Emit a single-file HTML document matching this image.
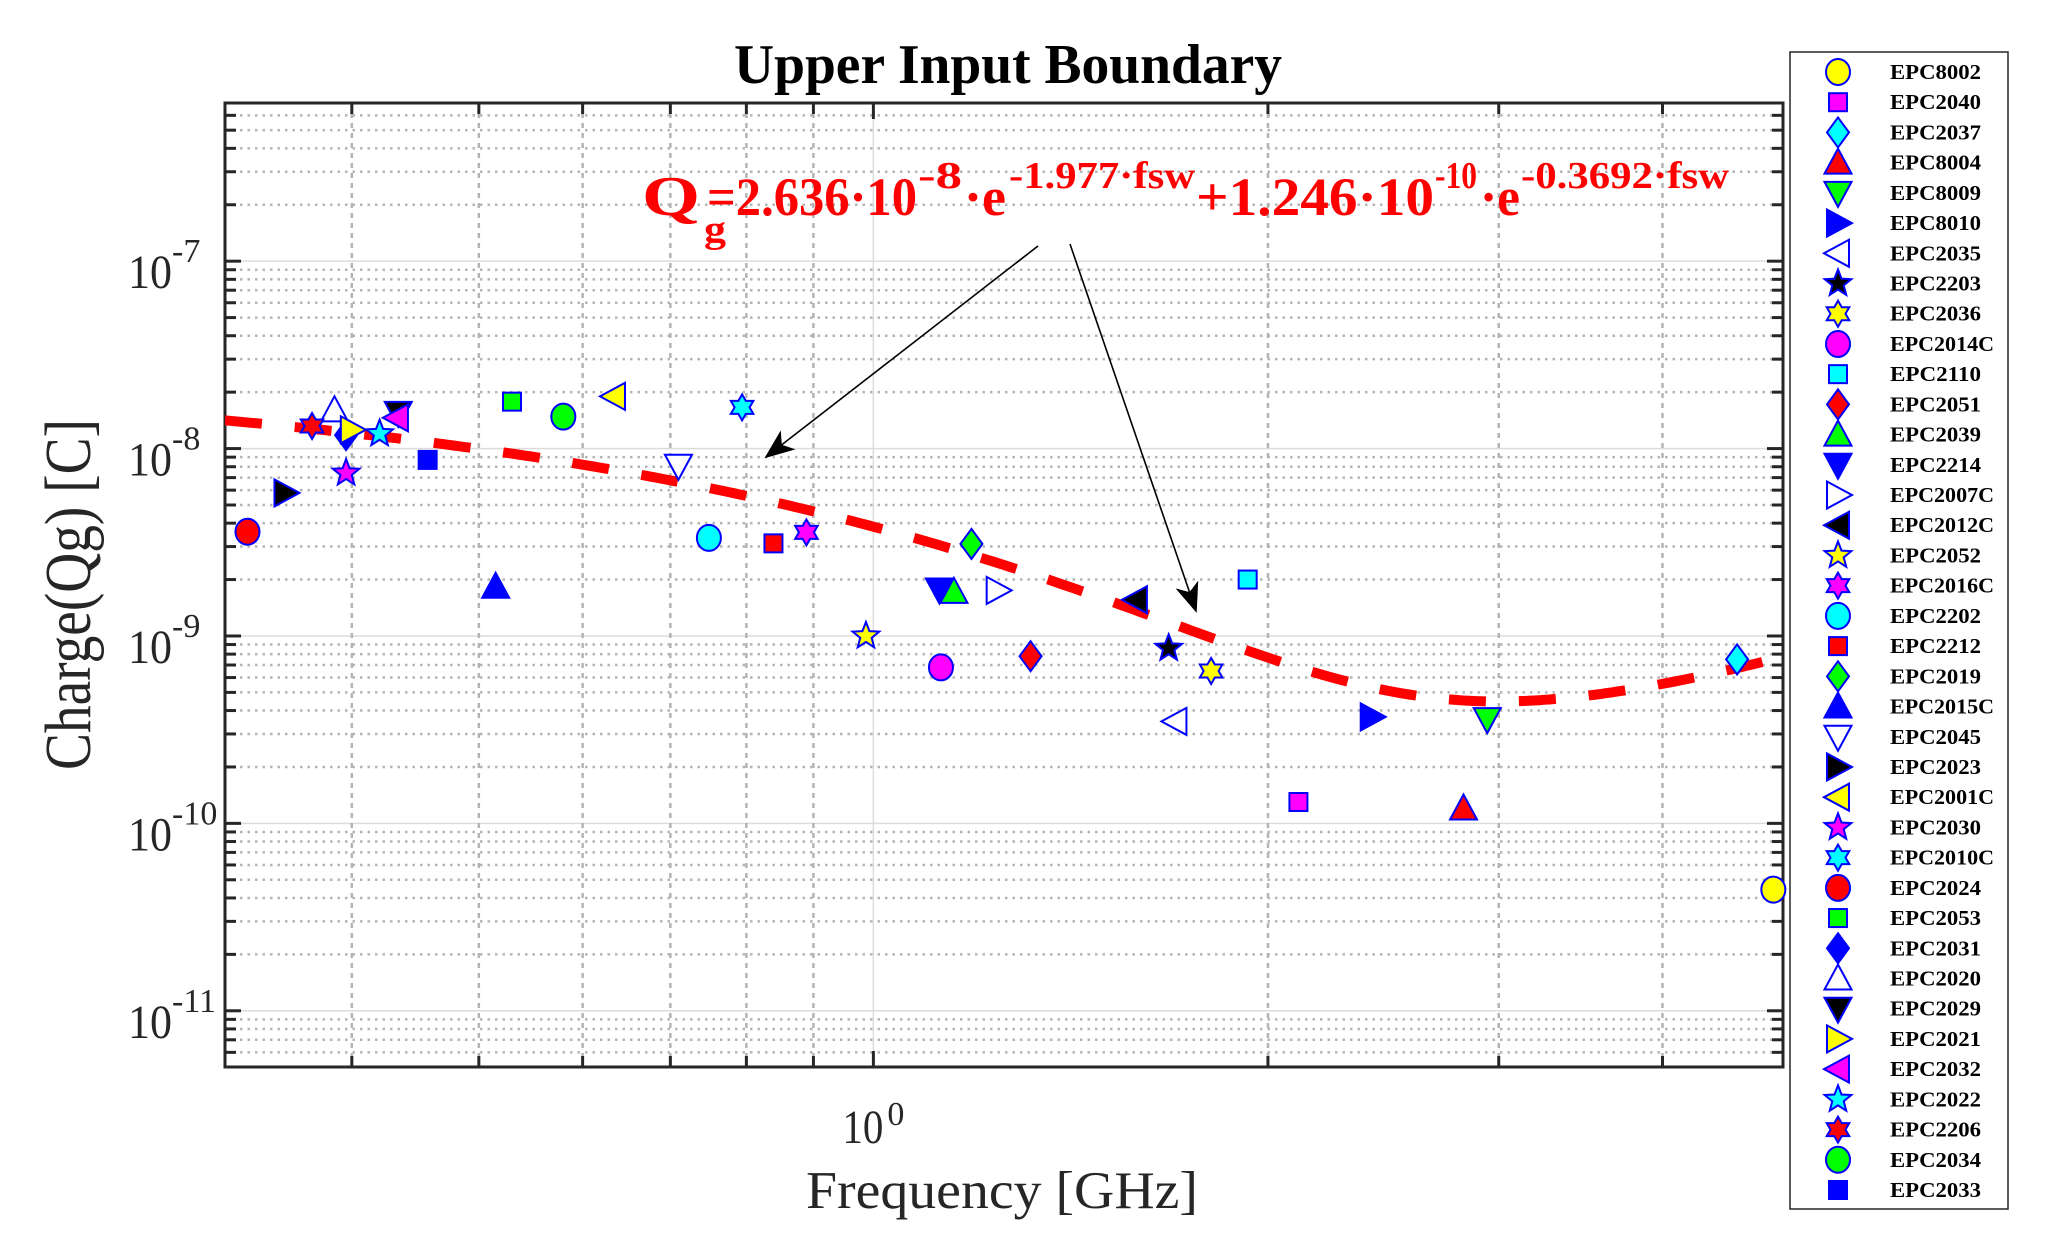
<!DOCTYPE html>
<html><head><meta charset="utf-8"><style>
html,body{margin:0;padding:0;background:#fff;}
svg{display:block;font-family:"Liberation Serif",serif;}
</style></head><body>
<svg id="chart" width="2055" height="1249" viewBox="0 0 2055 1249" xmlns="http://www.w3.org/2000/svg">
<rect x="0" y="0" width="2055" height="1249" fill="#fff"/>
<defs><clipPath id="plotclip"><rect x="225" y="103" width="1558" height="964"/></clipPath>
<marker id="ah" viewBox="0 0 30 24" refX="28" refY="12" markerWidth="30" markerHeight="24" markerUnits="userSpaceOnUse" orient="auto"><path d="M0,0 L30,12 L0,24 L8,12 Z" fill="#000"/></marker></defs>
<g id="grid"></g>
<g id="axes"></g>
<g id="fit" clip-path="url(#plotclip)"></g>
<g id="marks"></g>
<text x="1008" y="83" text-anchor="middle" font-weight="bold" font-size="56" textLength="548" lengthAdjust="spacingAndGlyphs" fill="#000">Upper Input Boundary</text>
<text x="806" y="1208" font-size="53" textLength="392" lengthAdjust="spacingAndGlyphs" fill="#262626">Frequency [GHz]</text>
<text transform="translate(90,770) rotate(-90)" font-size="66" textLength="351" lengthAdjust="spacingAndGlyphs" fill="#262626">Charge(Qg) [C]</text>
<g fill="#f00" font-weight="bold">
<text x="642" y="215" font-size="56" textLength="58" lengthAdjust="spacingAndGlyphs">Q</text>
<text x="704" y="242" font-size="38" textLength="22" lengthAdjust="spacingAndGlyphs">g</text>
<text x="707" y="215" font-size="54" textLength="210" lengthAdjust="spacingAndGlyphs">=2.636·10</text>
<text x="918" y="188" font-size="38" textLength="44" lengthAdjust="spacingAndGlyphs">-8</text>
<text x="964" y="215" font-size="54" textLength="42" lengthAdjust="spacingAndGlyphs">·e</text>
<text x="1009" y="188" font-size="38" textLength="186" lengthAdjust="spacingAndGlyphs">-1.977·fsw</text>
<text x="1196" y="215" font-size="54" textLength="238" lengthAdjust="spacingAndGlyphs">+1.246·10</text>
<text x="1435" y="188" font-size="38" textLength="42" lengthAdjust="spacingAndGlyphs">-10</text>
<text x="1480" y="215" font-size="54" textLength="40" lengthAdjust="spacingAndGlyphs">·e</text>
<text x="1521" y="188" font-size="38" textLength="208" lengthAdjust="spacingAndGlyphs">-0.3692·fsw</text>
</g>
<line x1="1038" y1="246" x2="766" y2="457" stroke="#000" stroke-width="1.6" marker-end="url(#ah)"/>
<line x1="1070" y1="244" x2="1196" y2="611" stroke="#000" stroke-width="1.6" marker-end="url(#ah)"/>
<g id="legend"></g>
</svg>
<script>
const deviceNames = ["EPC8002","EPC2040","EPC2037","EPC8004","EPC8009","EPC8010","EPC2035","EPC2203","EPC2036","EPC2014C","EPC2110","EPC2051","EPC2039","EPC2214","EPC2007C","EPC2012C","EPC2052","EPC2016C","EPC2202","EPC2212","EPC2019","EPC2015C","EPC2045","EPC2023","EPC2001C","EPC2030","EPC2010C","EPC2024","EPC2053","EPC2031","EPC2020","EPC2029","EPC2021","EPC2032","EPC2022","EPC2206","EPC2034","EPC2033"];
const freqGHz = [4.86,2.11,4.56,2.82,2.94,2.40,1.70,1.68,1.81,1.126,1.93,1.318,1.152,1.123,1.244,1.586,0.987,0.889,0.749,0.839,1.188,0.515,0.71,0.356,0.634,0.396,0.794,0.333,0.53,0.396,0.388,0.434,0.40,0.433,0.42,0.373,0.58,0.457];
const chargeC = [4.43e-11,1.3e-10,7.5e-10,1.2e-10,3.6e-10,3.7e-10,3.5e-10,8.6e-10,6.5e-10,6.8e-10,2.0e-9,7.8e-10,1.72e-9,1.77e-9,1.75e-9,1.56e-9,1.0e-9,3.57e-9,3.34e-9,3.12e-9,3.1e-9,1.83e-9,8.1e-9,5.8e-9,1.9e-8,7.4e-9,1.66e-8,3.6e-9,1.78e-8,1.18e-8,1.6e-8,1.55e-8,1.26e-8,1.46e-8,1.2e-8,1.32e-8,1.48e-8,8.7e-9];
const markerShapes = ["circle","square","diamond","up","down","right","left","pentagram","hexagram"];
const markerColors = ["#ffff00","#ff00ff","#00ffff","#ff0000","#00ff00","#0000ff","#ffffff","#000000"];
const fitA = 2.636e-8, fitB = -1.977, fitC = 1.246e-10, fitD = 0.3692;
const yTickExps = [-7,-8,-9,-10,-11];
const xTickLabels = ["10"];
const xRange = [Math.pow(10,-0.4947), Math.pow(10,0.694)];
const yRange = [Math.pow(10,-11.30), Math.pow(10,-6.156)];

const NS="http://www.w3.org/2000/svg";
const L=225,R=1783,T=103,B=1067;
function X(f){return L+(Math.log10(f)-Math.log10(xRange[0]))/(Math.log10(xRange[1])-Math.log10(xRange[0]))*(R-L);}
function Y(q){return B-(Math.log10(q)-Math.log10(yRange[0]))/(Math.log10(yRange[1])-Math.log10(yRange[0]))*(B-T);}
function mk(tag,attrs,parent){const e=document.createElementNS(NS,tag);for(const k in attrs)e.setAttribute(k,attrs[k]);parent.appendChild(e);return e;}
const grid=document.getElementById('grid'),axes=document.getElementById('axes'),fit=document.getElementById('fit'),marks=document.getElementById('marks'),legend=document.getElementById('legend');

for(let e=-12;e<=-6;e++){for(let m=1;m<=9;m++){const q=m*Math.pow(10,e);if(q<yRange[0]||q>yRange[1])continue;const y=Y(q);
 const g=mk('line',{x1:L,x2:R,y1:y,y2:y,stroke:m===1?'#dcdcdc':'#b4b4b4','stroke-width':m===1?1.5:2.5,'stroke-dasharray':m===1?'none':'2.5 5'},grid);
 
 
 const tl=m===1?16:11;
 const t1=mk('line',{x1:L,x2:L+tl,y1:y,y2:y,stroke:'#262626','stroke-width':3},axes);
 
 
 const t2=mk('line',{x1:R,x2:R-tl,y1:y,y2:y,stroke:'#262626','stroke-width':3},axes);
 
 
}}
for(let e=-1;e<=0;e++){for(let m=1;m<=9;m++){const f=m*Math.pow(10,e);if(f<xRange[0]||f>xRange[1])continue;const x=X(f);
 const g=mk('line',{x1:x,x2:x,y1:T,y2:B,stroke:(m===1)?'#dcdcdc':'#b4b4b4','stroke-width':(m===1)?1.5:2.5,'stroke-dasharray':(m===1)?'none':'5 5'},grid);
 
 
 const tl=m===1?16:11;
 const t1=mk('line',{x1:x,x2:x,y1:B,y2:B-tl,stroke:'#262626','stroke-width':3},axes);
 
 
 const t2=mk('line',{x1:x,x2:x,y1:T,y2:T+tl,stroke:'#262626','stroke-width':3},axes);
 
 
}}
const box=mk('rect',{x:L,y:T,width:R-L,height:B-T,fill:'none',stroke:'#262626','stroke-width':3},axes);


yTickExps.forEach(e=>{const y=Y(Math.pow(10,e));
 const t=mk('text',{x:128,y:y+27,'font-size':48,fill:'#262626',textLength:44,lengthAdjust:'spacingAndGlyphs'},axes);t.textContent='10';
 
 
 const s=mk('text',{x:172,y:y+1,'font-size':34,fill:'#262626'},axes);s.textContent='-'+(-e);
 
 
});
{const x=X(1);const t=mk('text',{x:x-31,y:1143,'font-size':48,fill:'#262626',textLength:41,lengthAdjust:'spacingAndGlyphs'},axes);t.textContent=xTickLabels[0];
 
 
 const s=mk('text',{x:x+14,y:1125,'font-size':34,fill:'#262626'},axes);s.textContent='0';
 
 }

{let d='';const n=300;const l0=Math.log10(xRange[0]),l1=Math.log10(xRange[1]);
 for(let i=0;i<=n;i++){const f=Math.pow(10,l0+(l1-l0)*i/n);const q=fitA*Math.exp(fitB*f)+fitC*Math.exp(fitD*f);d+=(i?'L':'M')+X(f).toFixed(1)+','+Y(q).toFixed(1);}
 const p=mk('path',{d:d,fill:'none',stroke:'#ff0000','stroke-width':10,'stroke-dasharray':'37 33'},fit);
 
 }

function starPts(n,ro,ri){let s='';for(let i=0;i<2*n;i++){const r=i%2?ri:ro;const a=-Math.PI/2+i*Math.PI/n;s+=(r*Math.cos(a)).toFixed(2)+','+(r*Math.sin(a)).toFixed(2)+' ';}return s;}
function drawMarker(shape,color,cx,cy,parent){
 const st={fill:color,stroke:'#0000ff','stroke-width':2};
 const g=mk('g',{transform:'translate('+cx+','+cy+')'},parent);
 if(shape==='circle')mk('ellipse',Object.assign({cx:0,cy:0,rx:12,ry:13},st),g);
 else if(shape==='square')mk('rect',Object.assign({x:-9,y:-9,width:18,height:18},st),g);
 else if(shape==='diamond')mk('polygon',Object.assign({points:'0,-15 11,0 0,15 -11,0'},st),g);
 else if(shape==='up')mk('polygon',Object.assign({points:'0,-14 13.5,11 -13.5,11'},st),g);
 else if(shape==='down')mk('polygon',Object.assign({points:'0,14 13.5,-11 -13.5,-11'},st),g);
 else if(shape==='right')mk('polygon',Object.assign({points:'14,0 -11,-13.5 -11,13.5'},st),g);
 else if(shape==='left')mk('polygon',Object.assign({points:'-14,0 11,-13.5 11,13.5'},st),g);
 else if(shape==='pentagram')mk('polygon',Object.assign({points:starPts(5,14,6)},st),g);
 else mk('polygon',Object.assign({points:starPts(6,13,7.5)},st),g);
 return g;}

for(let i=0;i<deviceNames.length;i++){
 const g=drawMarker(markerShapes[i%9],markerColors[i%8],X(freqGHz[i]),Y(chargeC[i]),marks);
 
 
}

{const lb=mk('rect',{x:1790,y:52,width:218,height:1157,fill:'#fff',stroke:'#262626','stroke-width':1.5},legend);
 
 
 const step=(1190-72)/(deviceNames.length-1);
 for(let i=0;i<deviceNames.length;i++){const y=72+i*step;
  const g=mk('g',{},legend);
  
  
  drawMarker(markerShapes[i%9],markerColors[i%8],1838,y,g);
  const t=mk('text',{x:1890,y:y+7,'font-size':21,'font-weight':'bold',fill:'#000',textLength:deviceNames[i].length*13,lengthAdjust:'spacingAndGlyphs'},g);
  t.textContent=deviceNames[i];
 }}
</script>
</body></html>
